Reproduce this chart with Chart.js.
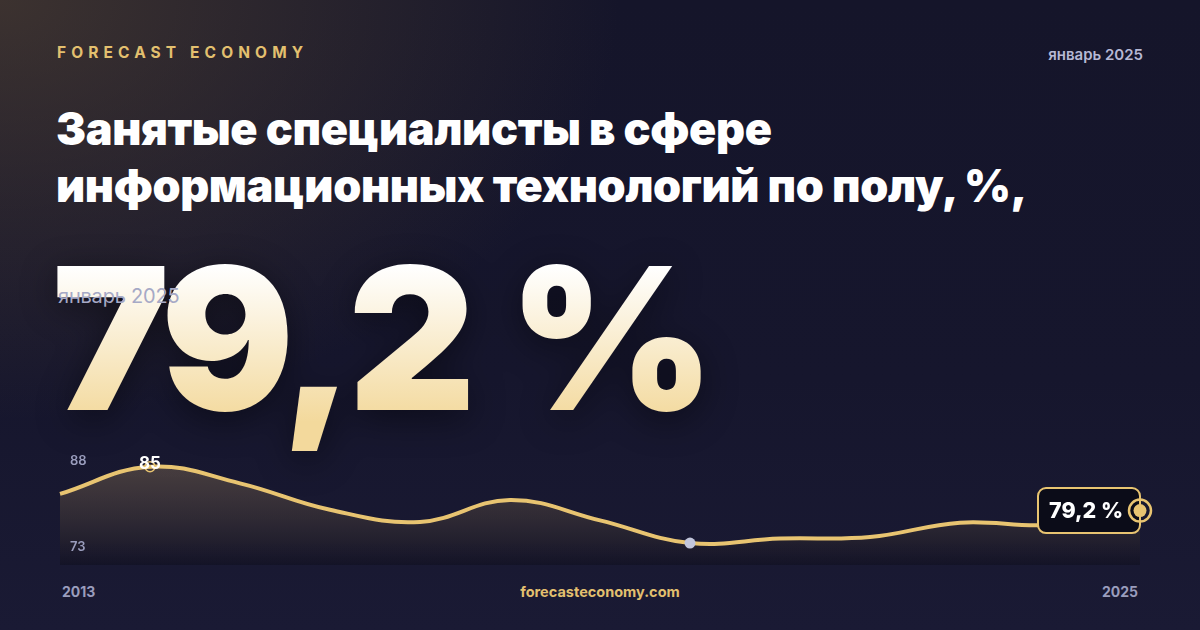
<!DOCTYPE html>
<html lang="ru">
<head>
<meta charset="utf-8">
<script src="https://cdn.jsdelivr.net/npm/chart.js@4.4.1/dist/chart.umd.min.js"></script>
<style>
  html, body { margin: 0; padding: 0; }
  body {
    width: 1200px; height: 630px; overflow: hidden; position: relative;
    font-family: Inter, "Noto Sans", sans-serif;
    background:
      radial-gradient(ellipse 620px 420px at 0px 0px, rgba(92,74,52,0.55), rgba(92,74,52,0) 100%),
      linear-gradient(180deg, #15152a 0%, #16162d 60%, #1a1a34 100%);
  }
  .brand { position: absolute; left: 57px; top: 43px; color: #e3c06f; font-weight: 700;
    font-size: 15.5px; letter-spacing: 5.1px; }
  .date { position: absolute; right: 57px; top: 45px; color: #b6b8d4; font-weight: 600; font-size: 15px; }
  .title { position: absolute; left: 56px; top: 100px; color: #ffffff; font-weight: 900;
    font-size: 45px; line-height: 57px; letter-spacing: -0.4px; }
  .big { position: absolute; left: 52px; top: 218px; font-weight: 900; font-size: 198px;
    line-height: 240px; letter-spacing: -7px; word-spacing: 7px;
    background: linear-gradient(180deg, #ffffff 20%, #f3d99c 85%);
    -webkit-background-clip: text; background-clip: text; color: transparent;
    filter: drop-shadow(0 8px 18px rgba(0,0,0,0.45)); }
  .ghost { position: absolute; left: 58px; top: 284px; color: #a6a9c6;
    font-weight: 400; font-size: 20px; letter-spacing: -0.2px; }
  .foot { position: absolute; top: 583px; font-weight: 700; font-size: 14px; }
  #wrap { position: absolute; left: 0; top: 430px; width: 1200px; height: 150px; }
</style>
</head>
<body>
<div class="brand">FORECAST ECONOMY</div>
<div class="date">январь 2025</div>
<div class="title">Занятые специалисты в сфере<br>информационных технологий по полу, %,</div>
<div class="big">79,2 %</div>
<div class="ghost">январь 2025</div>
<div id="wrap"><canvas id="spark"></canvas></div>
<div class="foot" style="left:62px;color:#9a9dbd">2013</div>
<div class="foot" style="left:0;width:1200px;text-align:center;color:#e3c06f;font-size:14.5px">forecasteconomy.com</div>
<div class="foot" style="right:62px;color:#9a9dbd">2025</div>

<script>
// share of men among employed IT specialists, %
var years = ['2013','2014','2015','2016','2017','2018','2019','2020','2021','2022','2023','2024','2025'];
var values = [81.4, 85.0, 82.8, 79.3, 77.7, 80.6, 77.9, 74.9, 75.5, 75.7, 77.6, 77.3, 79.2];
var yTicks = ['88', '73'];
var lastLabel = '79,2 %';

var gold = '#e8c471';

var markers = {
    id: 'markers',
    afterDatasetsDraw: function (chart) {
        var ctx = chart.ctx;
        var pts = chart.getDatasetMeta(0).data;
        var area = chart.chartArea;
        var maxI = values.indexOf(Math.max.apply(null, values));
        var minI = values.indexOf(Math.min.apply(null, values));
        var lastI = values.length - 1;
        ctx.save();

        // y labels
        ctx.font = '600 13px Inter';
        ctx.fillStyle = '#9a9dbd';
        ctx.textBaseline = 'middle';
        ctx.fillText(yTicks[0], area.left + 10, area.top + 17);
        ctx.fillText(yTicks[1], area.left + 10, area.bottom - 18);

        // max
        var p = pts[maxI];
        ctx.beginPath();
        ctx.arc(p.x, p.y, 5, 0, Math.PI * 2);
        ctx.lineWidth = 1.5;
        ctx.strokeStyle = gold;
        ctx.stroke();
        ctx.font = '700 17px Inter';
        ctx.fillStyle = '#ffffff';
        ctx.textAlign = 'center';
        ctx.textBaseline = 'alphabetic';
        ctx.fillText(String(values[maxI]).replace('.', ','), p.x, p.y + 2);

        // min
        p = pts[minI];
        ctx.beginPath();
        ctx.arc(p.x, p.y, 5.5, 0, Math.PI * 2);
        ctx.fillStyle = '#c2c6dc';
        ctx.fill();

        // last value box
        p = pts[lastI];
        var w = 102, h = 45, r = 8;
        var bx = p.x - w, by = p.y - h / 2;
        ctx.beginPath();
        ctx.roundRect(bx, by, w, h, r);
        ctx.fillStyle = '#0b0c18';
        ctx.fill();
        ctx.lineWidth = 2;
        ctx.strokeStyle = gold;
        ctx.stroke();
        ctx.font = '800 21.5px Inter';
        ctx.fillStyle = '#ffffff';
        ctx.textAlign = 'left';
        ctx.textBaseline = 'middle';
        ctx.fillText(lastLabel, bx + 11, p.y + 1);

        ctx.beginPath();
        ctx.arc(p.x, p.y, 11, 0, Math.PI * 2);
        ctx.lineWidth = 2.5;
        ctx.strokeStyle = gold;
        ctx.stroke();
        ctx.beginPath();
        ctx.arc(p.x, p.y, 6.5, 0, Math.PI * 2);
        ctx.fillStyle = gold;
        ctx.fill();
        ctx.restore();
    }
};

new Chart(document.getElementById('spark'), {
    type: 'line',
    data: {
        labels: years,
        datasets: [{
            data: values,
            borderColor: gold,
            borderWidth: 4,
            tension: 0.4,
            pointRadius: 0,
            fill: 'start',
            backgroundColor: function (context) {
                var area = context.chart.chartArea;
                if (!area) return 'rgba(232,196,113,0.2)';
                var g = context.chart.ctx.createLinearGradient(0, area.top, 0, area.bottom);
                g.addColorStop(0, 'rgba(232,190,120,0.27)');
                g.addColorStop(1, 'rgba(10,10,20,0.35)');
                return g;
            }
        }]
    },
    options: {
        responsive: true,
        maintainAspectRatio: false,
        animation: false,
        layout: { padding: { left: 60, right: 60, top: 14, bottom: 15 } },
        plugins: { legend: { display: false }, tooltip: { enabled: false } },
        scales: {
            x: { display: false },
            y: { display: false, min: 72, max: 88 }
        }
    },
    plugins: [markers]
});
</script>
</body>
</html>
